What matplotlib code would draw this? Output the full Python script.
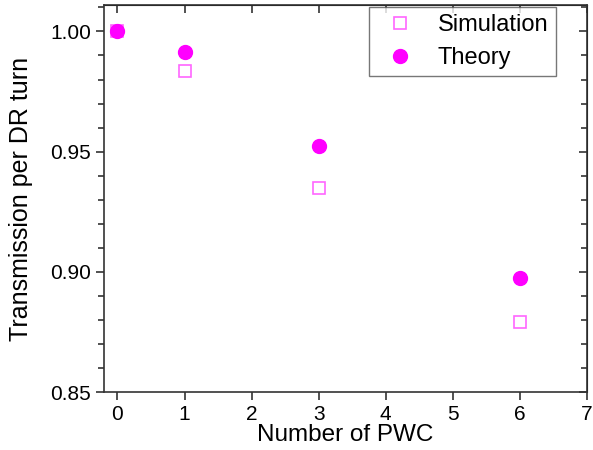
import numpy as np
import matplotlib.pyplot as plt
from matplotlib.ticker import MultipleLocator

plt.rcParams['font.family'] = ['Liberation Sans', 'DejaVu Sans']

pwc = [0, 1, 3, 6]
simulation = [1.000, 0.9835, 0.935, 0.879]
theory = [1.000, 0.9915, 0.9525, 0.8975]

fig = plt.figure(figsize=(5.93, 4.5), dpi=100)
ax = fig.add_axes([104 / 593, 58 / 450, 483 / 593, 387 / 450])

ax.plot(pwc, simulation, 's', mfc='none', mec='#ff66ff', mew=1.2, ms=9, label='Simulation')
ax.plot(pwc, theory, 'o', color='#ff00ff', ms=10, label='Theory')

ax.set_xlim(-0.2, 7)
ax.set_ylim(0.85, 1.011)
ax.xaxis.set_major_locator(MultipleLocator(1))
ax.yaxis.set_major_locator(MultipleLocator(0.05))
ax.yaxis.set_minor_locator(MultipleLocator(0.01))
ax.yaxis.set_major_formatter(plt.FormatStrFormatter('%.2f'))

ax.tick_params(which='both', direction='out', labelsize=15, width=1.2, color='#333333')
ax.tick_params(which='major', length=6)
ax.tick_params(which='minor', length=4)
for spine in ax.spines.values():
    spine.set_linewidth(1.2)
    spine.set_color('#333333')

# mirrored ticks on top/right point inward
sec_x = ax.secondary_xaxis('top')
sec_x.xaxis.set_major_locator(MultipleLocator(1))
sec_x.tick_params(direction='in', length=6, width=1.2, labeltop=False, color='#333333')
sec_y = ax.secondary_yaxis('right')
sec_y.yaxis.set_major_locator(MultipleLocator(0.05))
sec_y.yaxis.set_minor_locator(MultipleLocator(0.01))
sec_y.tick_params(which='both', direction='in', width=1.2, labelright=False, color='#333333')
sec_y.tick_params(which='major', length=6)
sec_y.tick_params(which='minor', length=4)

ax.set_xlabel('Number of PWC', fontsize=17.5, labelpad=0)
ax.set_ylabel('Transmission per DR turn', fontsize=18, labelpad=12)

leg = ax.legend(loc='upper right', bbox_to_anchor=(0.94, 1.0), fontsize=17,
                fancybox=False, edgecolor='#555555', borderpad=0.3,
                handlelength=2.0, handletextpad=0.6, labelspacing=0.45,
                borderaxespad=0.1)
leg.get_frame().set_linewidth(1.0)

fig.savefig('out.png', dpi=100)
